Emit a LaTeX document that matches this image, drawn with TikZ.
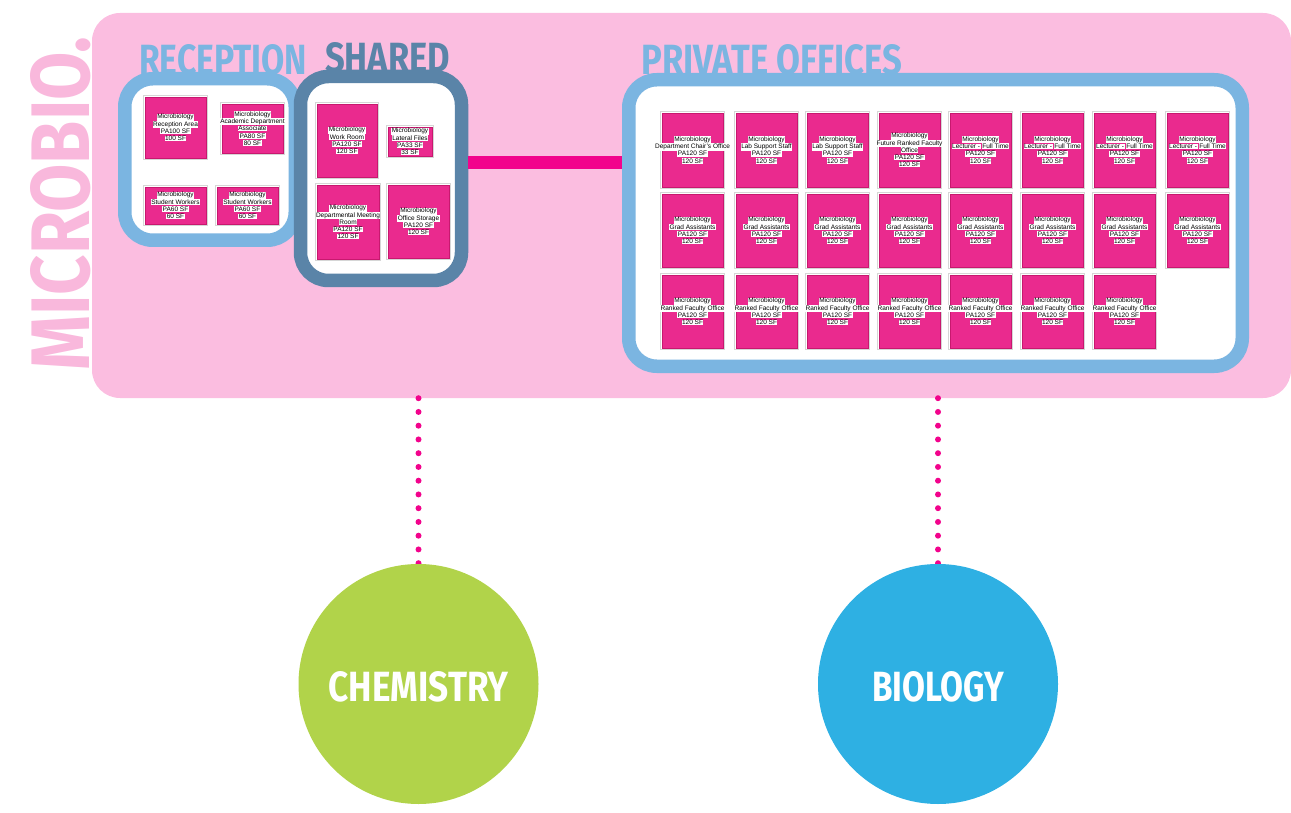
\documentclass[tikz,border=0pt]{standalone}
\usepackage{fontspec}
\usepackage{graphicx}
\setmainfont{Liberation Sans}
\newfontfamily\headfont{Fira Sans}
\usetikzlibrary{fit,calc}
\definecolor{bgpink}{HTML}{FBBDE0}
\definecolor{txtpink}{HTML}{F9B8DC}
\definecolor{lblue}{HTML}{7BB5E1}
\definecolor{dblue}{HTML}{5A84A8}
\definecolor{magbar}{HTML}{F2038C}
\definecolor{roomc}{HTML}{EA2A8E}
\definecolor{roomd}{HTML}{C8186F}
\definecolor{chemc}{HTML}{B1D34A}
\definecolor{bioc}{HTML}{2EB0E3}
\newcommand\lbx[1]{{\setlength{\fboxsep}{0.5pt}\colorbox{white}{#1}}}
\newcommand\pal[1]{\lbx{Microbiology}\\\lbx{#1}\\\lbx{PA120 SF}\\\lbx{120 SF}}
\newcommand\roombox[6]{%
  \draw[roomedge] ({#2-1.8},{#3-1.8}) rectangle ({#4+1.8},{#5+1.8});
  \node[room, fit={(#2,#3) (#4,#5)}] (#1) {};
  \node[roomlabel] (#1-l) at (#1.center) {#6};}
\tikzset{
  room/.style={fill=roomc, draw=roomd, line width=0.5pt, inner sep=0pt},
  roomedge/.style={draw=black!16, line width=1.2pt},
  roomlabel/.style={inner sep=0pt, align=center, font=\fontsize{6.5}{7.3}\selectfont},
  zonebox/.style={line width=13.5pt, fill=white, rounded corners=28pt, inner sep=0pt},
  hdr/.style={inner sep=0pt, anchor=south west},
  bar/.style={draw=magbar, line width=13pt},
  dots/.style={draw=magbar, line width=6pt, line cap=round, dash pattern=on 0pt off 13.75pt},
  dept/.style={circle, minimum size=240pt, inner sep=0pt},
  deptlabel/.style={inner sep=0pt, anchor=south, text=white}
}
\begin{document}
\begin{tikzpicture}[x=1pt, y=-1pt]
\useasboundingbox (0,0) rectangle (1291,813);
% background panel
\node[fill=bgpink, rounded corners=28pt, inner sep=0pt, fit={(92,13) (1291,398)}] (main) {};
% vertical title
\node[anchor=south west, rotate=90, inner sep=0pt, text=txtpink] (title) at (91,371)
  {\resizebox{334pt}{59pt}{\headfont\bfseries MICROBIO.}};
% headers
\node[hdr, text=lblue] (h-rec) at (139,75) {\resizebox{168pt}{30pt}{\headfont\bfseries RECEPTION}};
\node[hdr, text=dblue] (h-sh) at (325,73) {\resizebox{125pt}{30pt}{\headfont\bfseries SHARED}};
\node[hdr, text=lblue] (h-pr) at (641,75) {\resizebox{261pt}{30pt}{\headfont\bfseries PRIVATE OFFICES}};
% zone boxes
\node[zonebox, draw=lblue, fit={(124.75,78.75) (295.25,240.25)}] (recep) {};
\node[zonebox, draw=dblue, fit={(300.5,76.5) (461.5,280.5)}] (shared) {};
\node[zonebox, draw=lblue, fit={(628.75,79.75) (1242.25,366.25)}] (private) {};
\draw[bar] ([yshift=16pt]shared.east) coordinate (b1) -- (b1 -| private.west);
% reception rooms
\roombox{r1}{145}{97}{206}{158}{\lbx{Microbiology}\\\lbx{Reception Area}\\\lbx{PA100 SF}\\\lbx{100 SF}}
\roombox{r2}{222}{104}{283}{153}{\lbx{Microbiology}\\\lbx{Academic Department}\\\lbx{Associate}\\\lbx{PA80 SF}\\\lbx{80 SF}}
\roombox{r3}{145}{187}{206}{224}{\lbx{Microbiology}\\\lbx{Student Workers}\\\lbx{PA60 SF}\\\lbx{60 SF}}
\roombox{r4}{217}{187}{278}{224}{\lbx{Microbiology}\\\lbx{Student Workers}\\\lbx{PA60 SF}\\\lbx{60 SF}}
% shared rooms
\roombox{s1}{317}{104}{377}{177}{\pal{Work Room}}
\roombox{s2}{388}{127}{432}{156}{\lbx{Microbiology}\\\lbx{Lateral Files}\\\lbx{PA33 SF}\\\lbx{33 SF}}
\roombox{s3}{317}{185}{379}{259}{\lbx{Microbiology}\\\lbx{Departmental Meeting}\\\lbx{Room}\\\lbx{PA120 SF}\\\lbx{120 SF}}
\roombox{s4}{388}{185}{449}{258}{\pal{Office Storage}}
% private offices, row 1
\roombox{p1}{662}{113}{723}{187}{\pal{Department Chair's Office}}
\roombox{p2}{736}{113}{797}{187}{\pal{Lab Support Staff}}
\roombox{p3}{807}{113}{868}{187}{\pal{Lab Support Staff}}
\roombox{p4}{879}{113}{940}{187}{\lbx{Microbiology}\\\lbx{Future Ranked Faculty}\\\lbx{Office}\\\lbx{PA120 SF}\\\lbx{120 SF}}
\foreach \c/\x in {5/950,6/1022,7/1094,8/1167}{
  \roombox{p\c}{\x}{113}{\x+61}{187}{\lbx{Microbiology}\\\lbx{Lecturer -}\hspace{1.3pt}\lbx{Full Time}\\\lbx{PA120 SF}\\\lbx{120 SF}}
}
% row 2
\foreach \c/\x in {1/662,2/736,3/807,4/879,5/950,6/1022,7/1094,8/1167}{
  \roombox{g\c}{\x}{194}{\x+61}{267}{\pal{Grad Assistants}}
}
% row 3
\foreach \c/\x in {1/662,2/736,3/807,4/879,5/950,6/1022,7/1094}{
  \roombox{f\c}{\x}{275}{\x+61}{348}{\pal{Ranked Faculty Office}}
}
% departments
\node[dept] (chem) at (418.5,684) {};
\node[dept] (bio) at (938,684) {};
\draw[dots] (chem.north |- main.south) -- ([yshift=-1pt]chem.north);
\draw[dots] (bio.north |- main.south) -- ([yshift=-1pt]bio.north);
\node[dept, fill=chemc] (chemdisc) at (chem.center) {};
\node[dept, fill=bioc] (biodisc) at (bio.center) {};
\node[deptlabel] (chem-t) at (418.5,702) {\resizebox{180pt}{30pt}{\headfont\bfseries CHEMISTRY}};
\node[deptlabel] (bio-t) at (938,702) {\resizebox{132pt}{30pt}{\headfont\bfseries BIOLOGY}};
\end{tikzpicture}
\end{document}
